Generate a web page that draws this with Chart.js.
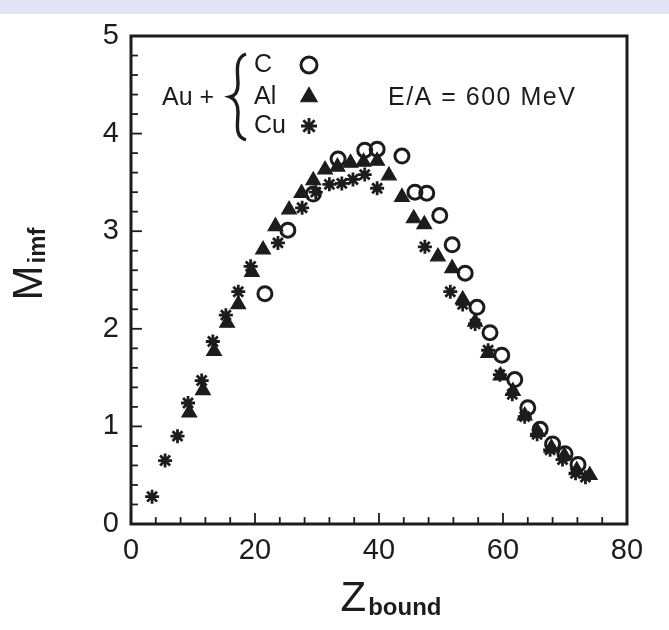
<!DOCTYPE html>
<html><head><meta charset="utf-8">
<script src="https://cdn.jsdelivr.net/npm/chart.js@4.4.1/dist/chart.umd.min.js"></script>
<style>
html,body{margin:0;padding:0;background:#fff;}
#wrap{position:relative;width:669px;height:630px;}
</style></head><body>
<div id="wrap"><canvas id="c" width="669" height="630"></canvas></div>
<script>
// ---- data ----
const xTickValues = [0, 20, 40, 60, 80];
const yTickValues = [0, 1, 2, 3, 4, 5];

const cZ = [21.6, 25.3, 29.4, 33.4, 37.7, 39.7, 43.7, 45.8, 47.7, 49.8, 51.8, 53.9, 55.8, 57.9, 59.8, 61.9, 64.0, 66.0, 68.0, 70.0, 72.1];
const cM = [2.36, 3.01, 3.38, 3.74, 3.83, 3.84, 3.77, 3.40, 3.39, 3.16, 2.86, 2.57, 2.22, 1.96, 1.73, 1.48, 1.19, 0.97, 0.82, 0.72, 0.61];

const alZ = [9.4, 11.6, 13.4, 15.5, 17.3, 19.5, 21.3, 23.3, 25.5, 27.5, 29.4, 31.3, 33.3, 35.4, 37.5, 39.7, 41.6, 43.7, 45.6, 47.3, 49.5, 51.8, 53.5, 55.5, 57.6, 59.6, 61.6, 63.5, 65.6, 67.8, 69.9, 71.9, 74.0];
const alM = [1.14, 1.37, 1.77, 2.06, 2.25, 2.58, 2.81, 3.05, 3.22, 3.39, 3.52, 3.63, 3.66, 3.70, 3.71, 3.72, 3.57, 3.35, 3.13, 3.07, 2.74, 2.62, 2.30, 2.07, 1.75, 1.52, 1.36, 1.11, 0.94, 0.78, 0.70, 0.55, 0.50];

const cuZ = [3.4, 5.5, 7.5, 9.2, 11.4, 13.2, 15.3, 17.3, 19.3, 23.7, 27.6, 29.8, 32.0, 34.0, 35.8, 37.7, 39.7, 47.4, 51.5, 53.5, 55.5, 57.6, 59.5, 61.5, 63.5, 65.5, 67.6, 69.6, 71.7, 73.3];
const cuM = [0.28, 0.65, 0.90, 1.24, 1.47, 1.87, 2.14, 2.38, 2.64, 2.88, 3.24, 3.40, 3.48, 3.49, 3.53, 3.58, 3.44, 2.84, 2.38, 2.25, 2.05, 1.78, 1.53, 1.33, 1.10, 0.92, 0.76, 0.66, 0.52, 0.48];

const legendTargets = ['C', 'Al', 'Cu'];
const projectileLabel = 'Au +';
const energyLabel = 'E/A = 600 MeV';
const xTitleMain = 'Z', xTitleSub = 'bound';
const yTitleMain = 'M', yTitleSub = 'imf';

const INK = '#1c1c1c';
const FONT = '"Liberation Sans", Arial, Helvetica, sans-serif';

const pts = (xs, ys) => xs.map((x, i) => ({x: x, y: ys[i]}));

const styleC  = {pointStyle: 'circle',   radius: 7,   borderWidth: 3};
const styleAl = {pointStyle: 'triangle', radius: 8.5, borderWidth: 1.2};
const styleCu = {pointStyle: 'star',     radius: 7,   borderWidth: 2.8};

// ---- plugin: background band, frame, inward ticks, titles, legend ----
const decor = {
  id: 'decor',
  beforeDraw(chart) {
    const ctx = chart.ctx;
    ctx.save();
    ctx.fillStyle = '#ffffff';
    ctx.fillRect(0, 0, chart.width, chart.height);
    ctx.fillStyle = '#e4e4f9';
    ctx.fillRect(0, 0, chart.width, 14);
    ctx.restore();
  },
  beforeDatasetsDraw(chart) {
    const ctx = chart.ctx, a = chart.chartArea;
    const xs = chart.scales.x, ys = chart.scales.y;
    ctx.save();
    ctx.strokeStyle = INK;
    ctx.lineCap = 'square';
    ctx.lineWidth = 3;
    ctx.strokeRect(a.left, a.top, a.right - a.left, a.bottom - a.top);
    ctx.lineWidth = 1.8;
    for (let v = 0; v <= 80; v += 4) {
      const px = xs.getPixelForValue(v);
      const len = (v % 20 === 0) ? 10 : 6;
      ctx.beginPath(); ctx.moveTo(px, a.bottom); ctx.lineTo(px, a.bottom - len); ctx.stroke();
    }
    for (let i = 0; i <= 25; i++) {
      const py = ys.getPixelForValue(i * 0.2);
      const len = (i % 5 === 0) ? 10 : 6;
      ctx.beginPath(); ctx.moveTo(a.left, py); ctx.lineTo(a.left + len, py); ctx.stroke();
    }
    ctx.restore();
  },
  afterDraw(chart) {
    const ctx = chart.ctx;
    ctx.save();
    ctx.fillStyle = INK;
    ctx.strokeStyle = INK;
    ctx.textBaseline = 'alphabetic';
    const big = '42px ' + FONT, small = 'bold 24px ' + FONT;
    // x title
    ctx.font = big;
    const zw = ctx.measureText(xTitleMain).width;
    ctx.font = small;
    const bw = ctx.measureText(xTitleSub).width;
    const x0 = 391 - (zw + 2 + bw) / 2;
    ctx.font = big;
    ctx.fillText(xTitleMain, x0, 611);
    ctx.font = small;
    ctx.fillText(xTitleSub, x0 + zw + 2, 615);
    // y title (rotated)
    ctx.save();
    ctx.font = big;
    const mw = ctx.measureText(yTitleMain).width;
    ctx.font = small;
    const iw = ctx.measureText(yTitleSub).width;
    ctx.translate(42, 264 + (mw + 2 + iw) / 2);
    ctx.rotate(-Math.PI / 2);
    ctx.font = big;
    ctx.fillText(yTitleMain, 0, 0);
    ctx.font = small;
    ctx.fillText(yTitleSub, mw + 2, 3);
    ctx.restore();

    // legend text
    ctx.font = '25px ' + FONT;
    ctx.textBaseline = 'middle';
    ctx.textAlign = 'left';
    ctx.fillText(projectileLabel, 162, 98);
    const rowsY = [65, 97, 126];
    legendTargets.forEach((t, i) => ctx.fillText(t, 254, rowsY[i]));
    ctx.save();
    if ('letterSpacing' in ctx) ctx.letterSpacing = '1.5px';
    ctx.fillText(energyLabel, 388, 98);
    ctx.restore();

    // brace
    ctx.lineWidth = 3.4;
    ctx.beginPath();
    ctx.moveTo(246, 54);
    ctx.bezierCurveTo(234, 58, 238, 74, 238, 84);
    ctx.bezierCurveTo(238, 92, 235, 96, 230, 97);
    ctx.bezierCurveTo(235, 99, 238, 103, 238, 112);
    ctx.bezierCurveTo(238, 124, 234, 136, 246, 140);
    ctx.stroke();

    // legend markers
    const drawIt = (st, x, y, fill) => {
      ctx.save();
      ctx.fillStyle = fill;
      ctx.strokeStyle = INK;
      ctx.lineWidth = st.borderWidth;
      if (Chart.helpers && Chart.helpers.drawPoint) {
        Chart.helpers.drawPoint(ctx, {pointStyle: st.pointStyle, radius: st.radius + 1, rotation: 0, borderWidth: st.borderWidth}, x, y);
      }
      ctx.restore();
    };
    drawIt(styleC, 309, 65, 'rgba(0,0,0,0)');
    drawIt(styleAl, 309, 97, INK);
    drawIt(styleCu, 309, 126, 'rgba(0,0,0,0)');
    ctx.restore();
  }
};

const tickFont = {family: FONT, size: 29};

new Chart(document.getElementById('c'), {
  type: 'scatter',
  data: {
    datasets: [
      {label: legendTargets[1], data: pts(alZ, alM), pointStyle: styleAl.pointStyle, pointRadius: styleAl.radius, pointBorderWidth: styleAl.borderWidth,
       backgroundColor: INK, borderColor: INK, pointHoverRadius: styleAl.radius},
      {label: legendTargets[2], data: pts(cuZ, cuM), pointStyle: styleCu.pointStyle, pointRadius: styleCu.radius, pointBorderWidth: styleCu.borderWidth,
       backgroundColor: INK, borderColor: INK, pointHoverRadius: styleCu.radius},
      {label: legendTargets[0], data: pts(cZ, cM), pointStyle: styleC.pointStyle, pointRadius: styleC.radius, pointBorderWidth: styleC.borderWidth,
       backgroundColor: 'rgba(0,0,0,0)', borderColor: INK, pointHoverRadius: styleC.radius}
    ]
  },
  options: {
    responsive: false,
    devicePixelRatio: 1,
    animation: false,
    events: [],
    layout: {padding: {left: 0, top: 36, right: 42, bottom: 0}},
    plugins: {legend: {display: false}, tooltip: {enabled: false}, title: {display: false}},
    scales: {
      x: {
        type: 'linear', min: 0, max: 80,
        afterBuildTicks(s) { s.ticks = xTickValues.map(v => ({value: v})); },
        afterFit(s) { s.height = 106; },
        grid: {display: false, drawTicks: false},
        border: {display: false},
        ticks: {font: tickFont, color: INK, padding: 10, maxRotation: 0, autoSkip: false}
      },
      y: {
        type: 'linear', min: 0, max: 5,
        afterBuildTicks(s) { s.ticks = yTickValues.map(v => ({value: v})); },
        afterFit(s) { s.width = 131; },
        grid: {display: false, drawTicks: false},
        border: {display: false},
        ticks: {font: tickFont, color: INK, padding: 12, autoSkip: false}
      }
    }
  },
  plugins: [decor]
});
</script>
</body></html>
